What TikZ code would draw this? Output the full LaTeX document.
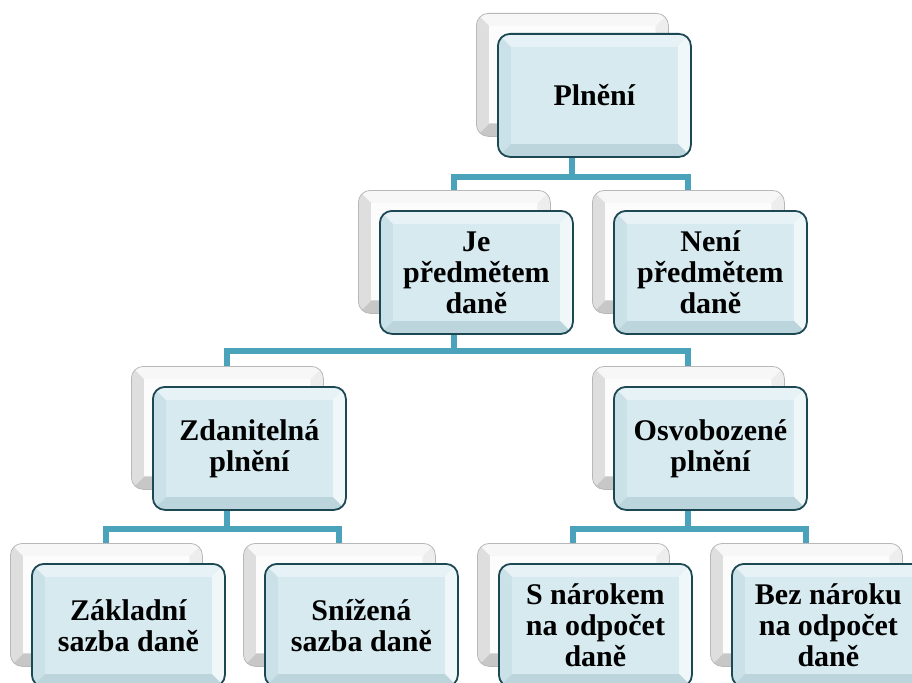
\documentclass[tikz,border=0pt]{standalone}
\usepackage{fontspec}
\setmainfont{Liberation Serif}
\usepackage{tikz}
\usetikzlibrary{positioning, calc}
\definecolor{linkteal}{RGB}{74,163,186}
\definecolor{edgeteal}{RGB}{28,72,84}
\definecolor{faceblue}{RGB}{215,234,240}
\definecolor{topblue}{RGB}{230,242,246}
\definecolor{leftblue}{RGB}{203,225,232}
\definecolor{rightblue}{RGB}{240,247,249}
\definecolor{botblue}{RGB}{188,212,220}
% bevelled face: #1 top, #2 left, #3 right, #4 bottom, #5 face
\newcommand{\bevelfill}[5]{%
  \begin{scope}[sharp corners]
  \path (path picture bounding box.north west) coordinate (o1)
        (path picture bounding box.south east) coordinate (o2);
  \coordinate (i1) at ($(o1)+(13pt,-13pt)$);
  \coordinate (i2) at ($(o2)+(-13pt,13pt)$);
  \fill[#1] (o1) -- (o1 -| o2) -- (i1 -| i2) -- (i1) -- cycle;
  \fill[#2] (o1) -- (i1) -- (i1 |- i2) -- (o1 |- o2) -- cycle;
  \fill[#3] (o1 -| o2) -- (o2) -- (i2) -- (i1 -| i2) -- cycle;
  \fill[#4] (o1 |- o2) -- (i1 |- i2) -- (i2) -- (o2) -- cycle;
  \fill[#5] (i1) rectangle (i2);
  \end{scope}}
\newcommand{\orgbox}[4]{%
  \node[backbox] (#1b) at (#2,#3) {};
  \node[frontbox, anchor=north west] (#1) at ([shift={(21pt,-20pt)}]#1b.north west) {#4};}

\begin{document}
\begin{tikzpicture}[x=1pt, y=-1pt, every node/.style={rounded corners=12pt, inner sep=0pt, align=center}]
  \tikzset{
    backbox/.style={anchor=north west, minimum width=192pt, minimum height=123pt, draw=black!28, line width=0.8pt,
      path picture={\bevelfill{black!3}{black!13}{black!7}{black!22}{black!1}}},
    frontbox/.style={minimum width=193pt, minimum height=123pt, draw=edgeteal, line width=1.8pt,
      font=\fontsize{30}{31}\selectfont\bfseries,
      path picture={\bevelfill{topblue}{leftblue}{rightblue}{botblue}{faceblue}}},
    conn/.style={draw=linkteal, line width=6pt}
  }
  \useasboundingbox (0,0) rectangle (912,682);
  \orgbox{P}{476}{13}{Plnění}
  \orgbox{Je}{358}{190}{Je\\předmětem\\daně}
  \orgbox{Ne}{592}{190}{Není\\předmětem\\daně}
  \orgbox{Zd}{131}{366}{Zdanitelná\\plnění}
  \orgbox{Os}{592}{366}{Osvobozené\\plnění}
  \orgbox{Za}{10}{543}{Základní\\sazba daně}
  \orgbox{Sn}{243}{543}{Snížená\\sazba daně}
  \orgbox{Sn2}{477}{543}{S nárokem\\na odpočet\\daně}
  \orgbox{Bz}{710}{543}{Bez nároku\\na odpočet\\daně}
  % links between levels
  \draw[conn] (Pb |- P.south) -- ++(0,19) -| (Jeb.north);
  \draw[conn] (Pb |- P.south) -- ++(0,19) -| (Neb.north);
  \draw[conn] (Jeb |- Je.south) -- ++(0,16) -| (Zdb.north);
  \draw[conn] (Jeb |- Je.south) -- ++(0,16) -| (Osb.north);
  \draw[conn] (Zdb |- Zd.south) -- ++(0,18) -| (Zab.north);
  \draw[conn] (Zdb |- Zd.south) -- ++(0,18) -| (Snb.north);
  \draw[conn] (Osb |- Os.south) -- ++(0,18) -| (Sn2b.north);
  \draw[conn] (Osb |- Os.south) -- ++(0,18) -| (Bzb.north);
\end{tikzpicture}
\end{document}
